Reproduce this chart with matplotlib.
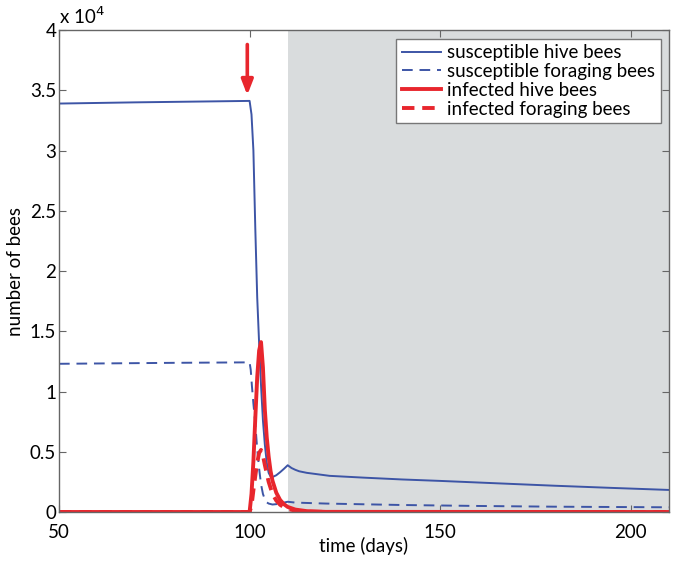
import matplotlib
matplotlib.use("Agg")
import matplotlib.pyplot as plt
from matplotlib.ticker import FuncFormatter

plt.rcParams['font.family'] = ['Lato', 'DejaVu Sans']

# susceptible hive bees
t_sh = [50, 70, 90, 100, 100.5, 101, 101.5, 102, 102.5, 103, 103.5, 104, 104.5, 105,
        105.5, 106, 107, 108, 109, 110, 111, 112, 113, 115, 121, 130, 140, 150, 165, 180, 195, 210]
s_hive = [33900, 34000, 34080, 34120, 33000, 30000, 23500, 17800, 14000, 10500, 7600, 5600, 4100, 3250,
          2950, 2900, 3050, 3300, 3580, 3880, 3650, 3500, 3380, 3250, 3000, 2850, 2700, 2580, 2380, 2180, 2000, 1830]

# susceptible foraging bees
t_sf = [50, 80, 100, 100.3, 100.6, 101, 101.5, 102, 102.5, 103, 103.5, 104, 104.5, 105, 106,
        107, 108, 109, 110, 112, 120, 140, 160, 180, 210]
s_forage = [12300, 12380, 12420, 11800, 10500, 9000, 7300, 5200, 3600, 2300, 1500, 1050, 800, 700, 620,
            650, 700, 780, 850, 780, 700, 580, 500, 440, 390]

# infected hive bees
t_ih = [50, 100, 100.5, 101, 101.5, 102, 102.5, 103, 103.5, 104, 104.5, 105, 105.5, 106, 107,
        108, 109, 110, 112, 115, 120, 210]
i_hive = [0, 0, 1500, 4200, 7800, 11200, 13400, 14100, 12000, 8500, 6200, 4600, 3400, 2600, 1600,
          1000, 650, 420, 200, 70, 10, 0]

# infected foraging bees
t_if = [50, 100, 100.5, 101, 101.5, 102, 102.5, 103, 103.5, 104, 104.5, 105, 106, 107, 108,
        109, 110, 112, 115, 120, 210]
i_forage = [0, 0, 500, 1800, 3000, 4100, 4900, 5150, 4700, 3900, 3200, 2500, 1500, 950, 600,
            400, 250, 110, 30, 5, 0]

blue = '#3d55a6'
red = '#e8262d'
fs = 13.5

fig = plt.figure(figsize=(6.74, 5.63), dpi=100)
ax = fig.add_axes([0.0875, 0.0906, 0.905, 0.856])

ax.axvspan(110, 210, color='#d9dcdd', zorder=0, lw=0)

ax.plot(t_sh, s_hive, color=blue, lw=1.4, label='susceptible hive bees')
ax.plot(t_sf, s_forage, color=blue, lw=1.4, ls=(0, (5.5, 3.5)), label='susceptible foraging bees')
ax.plot(t_ih, i_hive, color=red, lw=2.8, label='infected hive bees')
ax.plot(t_if, i_forage, color=red, lw=2.8, ls=(0, (3.2, 2)), label='infected foraging bees')

ax.annotate('', xy=(99.4, 34600), xytext=(99.4, 38800),
            arrowprops=dict(arrowstyle='-|>,head_length=0.9,head_width=0.35', color=red, lw=2.6,
                            shrinkA=0, shrinkB=0))

ax.set_xlim(50, 210)
ax.set_ylim(0, 40000)
ax.set_xticks([50, 100, 150, 200])
ax.set_yticks(range(0, 40001, 5000))
ax.yaxis.set_major_formatter(FuncFormatter(lambda v, p: '%g' % (v / 1e4)))
ax.tick_params(direction='in', top=True, right=True, labelsize=fs, color='#666666', length=5)
ax.tick_params(axis='x', pad=9)
ax.tick_params(axis='y', pad=2)
for s in ax.spines.values():
    s.set_color('#666666')
    s.set_linewidth(1.0)
ax.set_xlabel('time (days)', fontsize=fs, labelpad=-3)
ax.set_ylabel('number of bees', fontsize=fs, labelpad=4)
ax.text(0.0, 1.006, 'x 10$^{4}$', transform=ax.transAxes, fontsize=fs, ha='left', va='bottom')

leg = ax.legend(loc='upper right', fontsize=fs, handlelength=2.1, handletextpad=0.3,
                borderaxespad=0.45, labelspacing=0.1, fancybox=False, framealpha=1,
                borderpad=0.3)
leg.get_frame().set_edgecolor('#777777')
leg.get_frame().set_linewidth(1.0)

fig.savefig('out.png', dpi=100)
